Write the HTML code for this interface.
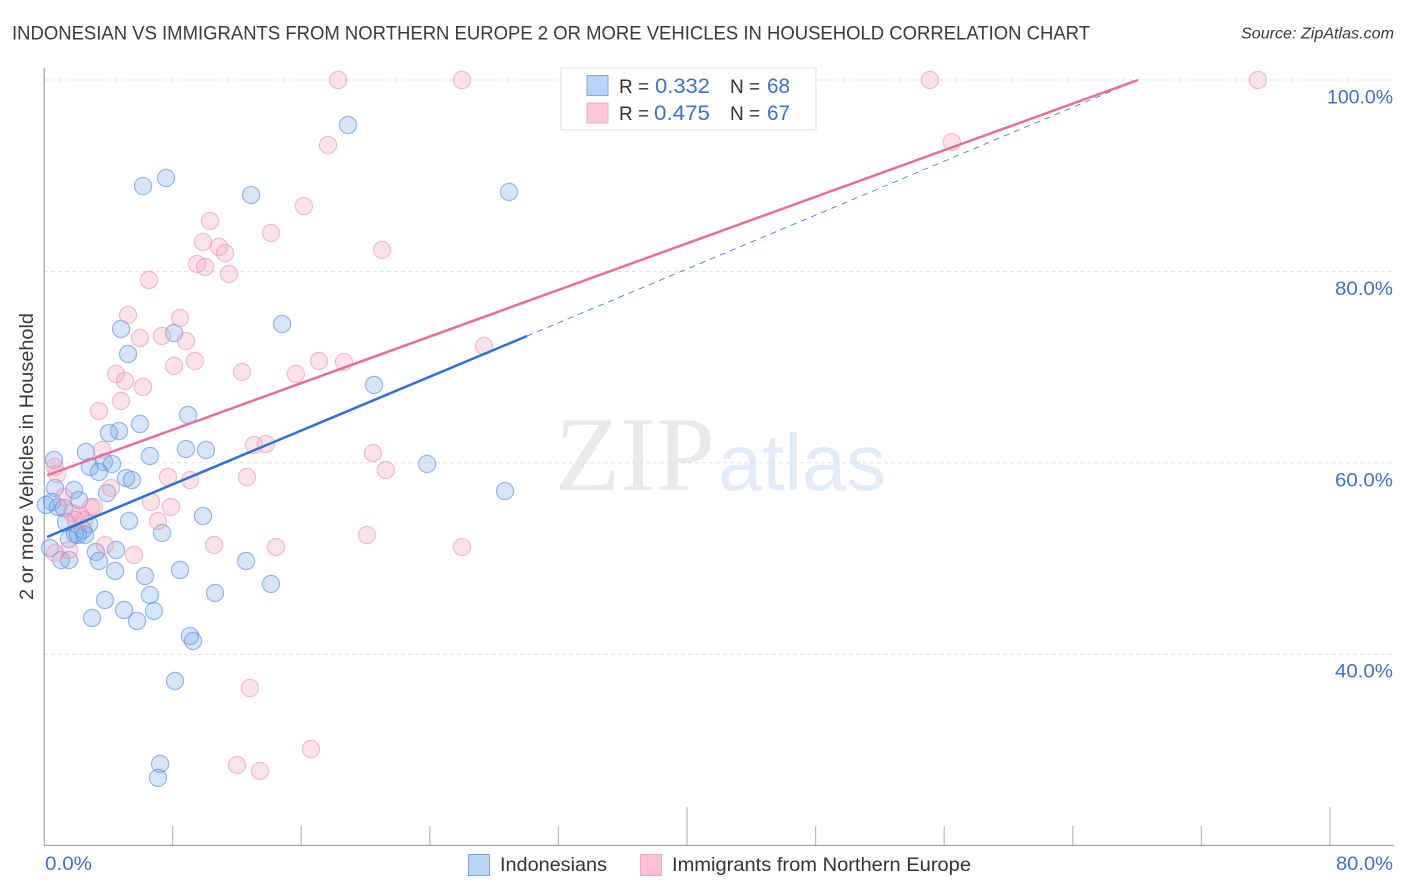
<!DOCTYPE html>
<html>
<head>
<meta charset="utf-8">
<style>
html,body{margin:0;padding:0;background:#fff;}
svg{display:block;font-family:"Liberation Sans",sans-serif;}
</style>
</head>
<body>
<svg id="chart" width="1406" height="892" viewBox="0 0 1406 892" xmlns="http://www.w3.org/2000/svg">
<text x="12" y="39.5" font-size="19.5" fill="#3a3a3a" textLength="1078" lengthAdjust="spacingAndGlyphs">INDONESIAN VS IMMIGRANTS FROM NORTHERN EUROPE 2 OR MORE VEHICLES IN HOUSEHOLD CORRELATION CHART</text>
<text x="1241" y="38.5" font-size="15.5" font-style="italic" fill="#3a3a3a" textLength="153" lengthAdjust="spacingAndGlyphs">Source: ZipAtlas.com</text>
<text x="555" y="490" font-family="'Liberation Serif',serif" font-size="106" fill="#e9e9e9" textLength="160" lengthAdjust="spacingAndGlyphs">ZIP</text>
<text x="718" y="490" font-family="'Liberation Sans',sans-serif" font-size="80" fill="#e2ebf9" textLength="168" lengthAdjust="spacingAndGlyphs">atlas</text>
<g id="grid"></g>
<g id="axes"></g>
<g id="blue-points"></g>
<g id="pink-points"></g>
<g id="lines"></g>
<text transform="translate(33,456.5) rotate(-90)" font-size="19" fill="#3a3a3a" text-anchor="middle" textLength="287" lengthAdjust="spacingAndGlyphs">2 or more Vehicles in Household</text>
<g>
<rect x="561" y="68" width="255" height="62" fill="#fff" stroke="#ddd" stroke-width="1"/>
<rect x="587" y="75.5" width="21" height="20" fill="#b8d4f8" stroke="#7fa8e0"/>
<rect x="587" y="103" width="21" height="20" fill="#fcc8d8" stroke="#f0a8c0"/>
<text x="619" y="93" font-size="19" fill="#333">R =</text>
<text x="655" y="93" font-size="21" fill="#3a72d0" textLength="55" lengthAdjust="spacingAndGlyphs">0.332</text>
<text x="730" y="93" font-size="19" fill="#333">N =</text>
<text x="767" y="93" font-size="21" fill="#3a72d0" textLength="23" lengthAdjust="spacingAndGlyphs">68</text>
<text x="619" y="120" font-size="19" fill="#333">R =</text>
<text x="654" y="120" font-size="21" fill="#3a72d0" textLength="56" lengthAdjust="spacingAndGlyphs">0.475</text>
<text x="730" y="120" font-size="19" fill="#333">N =</text>
<text x="767" y="120" font-size="21" fill="#3a72d0" textLength="23" lengthAdjust="spacingAndGlyphs">67</text>
</g>
<g>
<rect x="468.5" y="854.5" width="21" height="21" fill="#b8d4f8" stroke="#7fa8e0"/>
<text x="500" y="871" font-size="19.5" fill="#333" textLength="107" lengthAdjust="spacingAndGlyphs">Indonesians</text>
<rect x="640.5" y="854.5" width="21" height="21" fill="#fcc0d4" stroke="#f0a8c0"/>
<text x="672" y="871" font-size="19.5" fill="#333" textLength="299" lengthAdjust="spacingAndGlyphs">Immigrants from Northern Europe</text>
</g>
</svg>
<script>
var yTickValues = [100, 80, 60, 40];
var yTickLabels = ["100.0%", "80.0%", "60.0%", "40.0%"];
var xTickValues = [0, 8, 16, 24, 32, 40, 48, 56, 64, 72, 80];
var xMajorTicks = [40, 80];
var xEndLabels = ["0.0%", "80.0%"];
var blueX = [18.91,7.59,6.16,12.88,28.93,14.81,4.79,8.09,5.23,20.53,8.96,5.97,4.67,4.04,8.83,10.08,2.61,6.59,0.62,3.73,4.23,23.83,2.86,3.42,5.10,5.47,28.68,0.68,1.87,3.92,2.18,0.50,0.87,1.24,9.89,5.29,1.37,2.80,2.43,7.34,1.93,2.55,1.56,2.11,0.37,4.48,3.23,12.57,1.06,1.56,3.42,4.42,8.46,6.28,14.12,6.59,3.79,10.64,4.98,6.84,2.99,5.79,9.08,9.27,8.15,7.22,7.09,0.12];
var blueY = [95.30,89.76,88.92,87.98,88.30,74.50,73.98,73.56,71.37,68.13,65.00,64.06,63.32,63.11,61.44,61.34,61.13,60.71,60.29,60.08,59.88,59.88,59.56,59.04,58.41,58.20,57.05,57.37,57.16,56.85,56.11,55.91,55.38,55.28,54.44,53.92,53.82,53.61,52.98,52.67,52.56,52.46,52.04,52.46,51.10,50.89,50.68,49.74,49.84,49.84,49.74,48.70,48.80,48.17,47.34,46.19,45.67,46.40,44.62,44.52,43.78,43.47,41.90,41.38,37.20,28.53,27.07,55.59];
var pinkX = [18.29,26.00,55.11,75.51,56.48,17.67,16.17,10.33,14.12,9.89,10.89,11.26,21.03,9.52,10.02,11.51,6.53,5.23,8.46,5.97,7.34,8.83,27.37,8.09,9.39,17.11,18.66,4.48,12.32,15.67,5.04,6.16,4.79,3.42,13.06,13.81,3.61,20.46,0.68,0.81,21.27,12.63,7.71,9.08,4.17,1.24,6.66,7.90,2.92,2.24,7.09,2.49,20.09,10.58,26.00,14.43,3.79,5.60,1.56,0.68,12.81,16.61,12.01,13.44,3.11,1.74,1.99];
var pinkY = [100,100,100,100,93.52,93.21,86.83,85.27,84.01,83.07,82.55,81.92,82.24,80.77,80.46,79.73,79.10,75.44,75.13,73.04,73.25,72.73,72.21,70.12,70.64,70.64,70.53,69.28,69.49,69.28,68.55,67.92,66.46,65.41,61.86,61.97,61.34,61.03,59.56,58.83,59.25,58.52,58.52,58.20,57.37,56.43,55.91,55.38,55.38,54.55,53.92,54.02,52.46,51.41,51.20,51.20,51.41,50.37,50.89,50.58,36.47,30.10,28.42,27.80,55.38,54.76,54.02];
var blueTrendX = [0.19, 30.05];
var blueTrendY = [52.25, 73.25];
var blueDashX = [30.05, 68.05];
var blueDashY = [73.25, 100];
var pinkTrendX = [0.19, 68.05];
var pinkTrendY = [58.7, 100];

var NS = "http://www.w3.org/2000/svg";
function xScale(v) { return 44 + v * 16.075; }
function yScale(v) { return 80 + (100 - v) * 9.57; }
function make(tag, parentId, props) {
  var el = document.createElementNS(NS, tag);
  for (var k in props) { el.setAttribute(k, props[k]); }
  document.getElementById(parentId).appendChild(el);
  return el;
}
yTickValues.forEach(function (v, i) {
  var line = make("line", "grid", { x1: 44, x2: 1394, y1: yScale(v), y2: yScale(v), stroke: "#e0e0e0", "stroke-width": 1, "stroke-dasharray": "4 3" });
  
  
  var label = make("text", "axes", { x: 1393, y: yScale(v) + 23.5, "font-size": 19.5, fill: "#3a72d0", "text-anchor": "end", textLength: yTickLabels[i].length === 6 ? 66 : 58, lengthAdjust: "spacingAndGlyphs" });
  label.textContent = yTickLabels[i];
  
  
});
var yAxis = make("line", "axes", { x1: 44.3, x2: 44.3, y1: 68, y2: 846, stroke: "#aaa", "stroke-width": 1.3 });


var xAxis = make("line", "axes", { x1: 44, x2: 1394, y1: 845.4, y2: 845.4, stroke: "#aaa", "stroke-width": 1.3 });


xTickValues.forEach(function (v) {
  if (v === 0) { return; }
  var major = xMajorTicks.indexOf(v) !== -1;
  var tick = make("line", "axes", { x1: xScale(v), x2: xScale(v), y1: major ? 807 : 826, y2: 845, stroke: "#bbb", "stroke-width": 1.2 });
  
  
});
var x0Label = make("text", "axes", { x: 45, y: 870, "font-size": 19.5, fill: "#3a72d0", textLength: 47, lengthAdjust: "spacingAndGlyphs" });
x0Label.textContent = xEndLabels[0];


var x1Label = make("text", "axes", { x: 1336, y: 870, "font-size": 19.5, fill: "#3a72d0", textLength: 57, lengthAdjust: "spacingAndGlyphs" });
x1Label.textContent = xEndLabels[1];



blueX.forEach(function (v, i) {
  var c = make("circle", "blue-points", { cx: xScale(v), cy: yScale(blueY[i]), r: 8.6, fill: "rgba(120,170,235,0.3)", stroke: "rgba(70,135,225,0.55)", "stroke-width": 1.2 });
  
  
});
pinkX.forEach(function (v, i) {
  var c = make("circle", "pink-points", { cx: xScale(v), cy: yScale(pinkY[i]), r: 8.6, fill: "rgba(248,160,185,0.3)", stroke: "rgba(238,140,170,0.55)", "stroke-width": 1.2 });
  
  
});
var dash = make("line", "lines", { x1: xScale(blueDashX[0]), y1: yScale(blueDashY[0]), x2: xScale(blueDashX[1]), y2: yScale(blueDashY[1]), stroke: "#2a72d8", "stroke-width": 0.8, "stroke-dasharray": "6 5" });


var blueLine = make("line", "lines", { x1: xScale(blueTrendX[0]), y1: yScale(blueTrendY[0]), x2: xScale(blueTrendX[1]), y2: yScale(blueTrendY[1]), stroke: "#2a72d8", "stroke-width": 2.5 });


var pinkLine = make("line", "lines", { x1: xScale(pinkTrendX[0]), y1: yScale(pinkTrendY[0]), x2: xScale(pinkTrendX[1]), y2: yScale(pinkTrendY[1]), stroke: "#ea6c9a", "stroke-width": 2.5 });


</script>
</body>
</html>
